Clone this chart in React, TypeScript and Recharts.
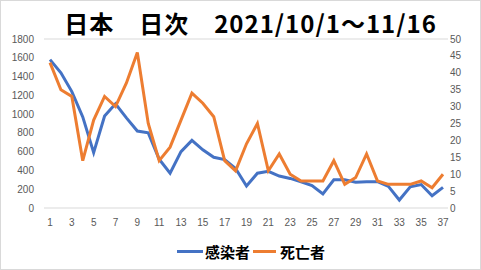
import React from 'react';
import { LineChart, Line, XAxis, YAxis, CartesianGrid, Legend } from 'recharts';

const days = ['1','2','3','4','5','6','7','8','9','10','11','12','13','14','15','16','17','18','19','20','21','22','23','24','25','26','27','28','29','30','31','32','33','34','35','36','37'];
const infected = [1580, 1440, 1240, 970, 590, 980, 1110, 960, 820, 800, 520, 370, 600, 720, 620, 540, 515, 420, 235, 370, 390, 340, 315, 280, 240, 150, 300, 300, 275, 280, 280, 230, 85, 225, 250, 130, 220];
const deaths = [43, 35, 33, 14, 26, 33, 30, 37, 46, 25, 14, 18, 26, 34, 31, 27, 14, 11, 19, 25, 11, 16, 10, 8, 8, 8, 14, 7, 9, 16, 8, 7, 7, 7, 8, 6, 10];
const leftTicks = [0, 200, 400, 600, 800, 1000, 1200, 1400, 1600, 1800];
const rightTicks = [0, 5, 10, 15, 20, 25, 30, 35, 40, 45, 50];
const title = '日本　日次　2021/10/1～11/16';
const seriesNames = ['感染者', '死亡者'];
const colors = ['#4472C4', '#ED7D31'];

const data = days.map((d, i) => ({ day: d, infected: infected[i], deaths: deaths[i] }));

const tickStyle = { fontSize: 10, fill: '#595959', fontFamily: 'Liberation Sans, Arial, sans-serif' };

const LegendContent = () => (
  <div style={{ display: 'flex', alignItems: 'center', height: 24, paddingLeft: 177, fontFamily: '"Noto Sans CJK JP", sans-serif', fontWeight: 'bold', fontSize: 15, color: '#000' }}>
    <div style={{ width: 26, height: 3, background: colors[0], marginRight: 2 }} />
    <span style={{ marginRight: 3 }}>{seriesNames[0]}</span>
    <div style={{ width: 23, height: 3, background: colors[1], marginRight: 4 }} />
    <span>{seriesNames[1]}</span>
  </div>
);

export default function App() {
  return (
    <div style={{ position: 'absolute', left: 0, top: 0, width: 481, height: 270, background: '#fff' }}>
      <div style={{ position: 'absolute', left: 0, top: 0, width: 481, height: 270, boxSizing: 'border-box', border: '1px solid #d9d9d9' }} />
      <div style={{ position: 'absolute', left: 0, top: 8, width: 501, textAlign: 'center', fontFamily: '"Noto Sans CJK JP", sans-serif', fontWeight: 'bold', fontSize: 24, letterSpacing: 1, lineHeight: '30px', color: '#000', whiteSpace: 'pre' }}>
        {title}
      </div>
      <div style={{ position: 'absolute', left: 0, top: 0 }}>
        <LineChart width={481} height={270} data={data} margin={{ top: 39, right: 0, bottom: 18, left: 0 }}>
          <CartesianGrid horizontal={true} vertical={false} stroke="#d9d9d9" strokeWidth={1} />
          <XAxis dataKey="day" interval={1} padding={{ left: 6, right: 5 }} axisLine={false} tickLine={false} tickSize={0} tickMargin={11} height={20} tick={tickStyle} />
          <YAxis yAxisId="left" orientation="left" domain={[0, 1800]} ticks={leftTicks} axisLine={false} tickLine={false} tickSize={0} tickMargin={10} width={44} tick={tickStyle} />
          <YAxis yAxisId="right" orientation="right" domain={[0, 50]} ticks={rightTicks} axisLine={false} tickLine={false} tickSize={0} tickMargin={2} width={33} tick={tickStyle} />
          <Line yAxisId="left" type="linear" dataKey="infected" name={seriesNames[0]} stroke={colors[0]} strokeWidth={3} dot={false} isAnimationActive={false} />
          <Line yAxisId="right" type="linear" dataKey="deaths" name={seriesNames[1]} stroke={colors[1]} strokeWidth={3} dot={false} isAnimationActive={false} />
          <Legend verticalAlign="bottom" height={24} content={LegendContent} wrapperStyle={{ bottom: 7, left: 0, width: 481 }} />
        </LineChart>
      </div>
    </div>
  );
}
